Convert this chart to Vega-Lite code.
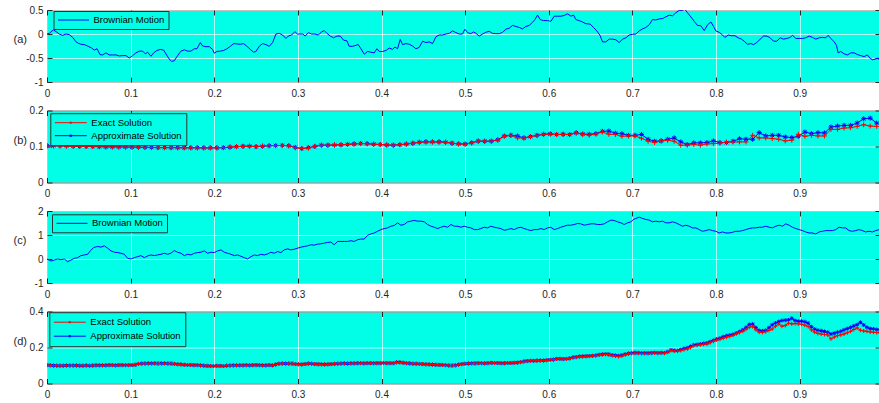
{
"$schema": "https://vega.github.io/schema/vega-lite/v6.json",
"padding": {"left": 12, "top": 4, "right": 0, "bottom": 0},
"background": "white",
"bounds": "flush",
"spacing": 28.5,
"config": {
  "font": "Liberation Sans",
  "view": {"fill": "#00ffe6", "stroke": "#333333", "strokeWidth": 1},
  "axis": {"labelFont": "Liberation Sans", "labelFontSize": 10, "labelColor": "#262626", "tickColor": "#262626", "tickSize": -5, "tickWidth": 1, "domain": false, "grid": true, "gridColor": "#ffffff", "gridOpacity": 0.7, "gridWidth": 1, "labelFlush": false, "titleFont": "Liberation Sans", "titleFontSize": 11, "titleFontWeight": "normal", "titleColor": "#262626"},
  "axisX": {"labelPadding": 11},
  "axisY": {"labelPadding": 9, "titleAngle": 0, "titleAlign": "left", "titleBaseline": "middle", "titleX": -34, "titleY": 29.5},
  "legend": {"labelFont": "Liberation Sans", "labelFontSize": 9.5, "labelColor": "#000000", "fillColor": "#00ffe6", "strokeColor": "#333333", "strokeWidth": 1, "padding": 4, "labelOffset": 4, "symbolStrokeWidth": 1, "title": null, "orient": "none"}
},
"resolve": {"scale": {"color": "independent", "x": "independent", "y": "independent"}, "legend": {"color": "independent"}},
"datasets": {
"a": [{"x":0,"y":0},{"x":0.0028,"y":0.014},{"x":0.0076,"y":0.086},{"x":0.0108,"y":0.05},{"x":0.0147,"y":0},{"x":0.0187,"y":-0.029},{"x":0.0227,"y":0},{"x":0.0267,"y":-0.014},{"x":0.0307,"y":-0.071},{"x":0.0347,"y":-0.164},{"x":0.0375,"y":-0.193},{"x":0.0406,"y":-0.214},{"x":0.0446,"y":-0.221},{"x":0.0494,"y":-0.257},{"x":0.0534,"y":-0.293},{"x":0.0566,"y":-0.336},{"x":0.0598,"y":-0.307},{"x":0.0634,"y":-0.429},{"x":0.0665,"y":-0.436},{"x":0.0705,"y":-0.393},{"x":0.0745,"y":-0.436},{"x":0.0785,"y":-0.436},{"x":0.0825,"y":-0.436},{"x":0.0865,"y":-0.457},{"x":0.0905,"y":-0.45},{"x":0.0944,"y":-0.45},{"x":0.0984,"y":-0.5},{"x":0.1024,"y":-0.45},{"x":0.1064,"y":-0.393},{"x":0.1104,"y":-0.357},{"x":0.1144,"y":-0.357},{"x":0.1176,"y":-0.414},{"x":0.1203,"y":-0.379},{"x":0.1243,"y":-0.464},{"x":0.1275,"y":-0.393},{"x":0.1315,"y":-0.343},{"x":0.1355,"y":-0.321},{"x":0.1395,"y":-0.336},{"x":0.1435,"y":-0.45},{"x":0.1462,"y":-0.521},{"x":0.149,"y":-0.571},{"x":0.1522,"y":-0.557},{"x":0.1562,"y":-0.45},{"x":0.1602,"y":-0.357},{"x":0.1642,"y":-0.329},{"x":0.1682,"y":-0.357},{"x":0.1721,"y":-0.357},{"x":0.1761,"y":-0.307},{"x":0.1793,"y":-0.307},{"x":0.1833,"y":-0.179},{"x":0.1861,"y":-0.25},{"x":0.1901,"y":-0.264},{"x":0.1941,"y":-0.264},{"x":0.198,"y":-0.321},{"x":0.2,"y":-0.4},{"x":0.2032,"y":-0.364},{"x":0.2072,"y":-0.357},{"x":0.2112,"y":-0.343},{"x":0.2152,"y":-0.307},{"x":0.2192,"y":-0.257},{"x":0.2232,"y":-0.2},{"x":0.2271,"y":-0.207},{"x":0.2311,"y":-0.214},{"x":0.2351,"y":-0.2},{"x":0.2391,"y":-0.257},{"x":0.2431,"y":-0.321},{"x":0.2471,"y":-0.379},{"x":0.2499,"y":-0.364},{"x":0.2538,"y":-0.257},{"x":0.2578,"y":-0.2},{"x":0.2618,"y":-0.221},{"x":0.2658,"y":-0.257},{"x":0.2698,"y":-0.179},{"x":0.2738,"y":0},{"x":0.2777,"y":0.014},{"x":0.2817,"y":-0.021},{"x":0.2857,"y":-0.093},{"x":0.2885,"y":-0.043},{"x":0.2925,"y":-0.021},{"x":0.2965,"y":0.05},{"x":0.2997,"y":-0.007},{"x":0.3017,"y":0},{"x":0.3057,"y":0},{"x":0.3088,"y":-0.043},{"x":0.3124,"y":0.029},{"x":0.3164,"y":0},{"x":0.3204,"y":0},{"x":0.3244,"y":-0.021},{"x":0.3284,"y":0.043},{"x":0.3315,"y":0.071},{"x":0.3347,"y":0.014},{"x":0.3387,"y":-0.043},{"x":0.3427,"y":-0.079},{"x":0.3467,"y":-0.043},{"x":0.3507,"y":-0.043},{"x":0.3547,"y":-0.129},{"x":0.3587,"y":-0.143},{"x":0.3614,"y":-0.257},{"x":0.3654,"y":-0.257},{"x":0.3694,"y":-0.236},{"x":0.3722,"y":-0.221},{"x":0.3754,"y":-0.307},{"x":0.3794,"y":-0.421},{"x":0.3834,"y":-0.364},{"x":0.3873,"y":-0.379},{"x":0.3913,"y":-0.393},{"x":0.3945,"y":-0.307},{"x":0.3973,"y":-0.364},{"x":0.4013,"y":-0.364},{"x":0.4053,"y":-0.343},{"x":0.4093,"y":-0.293},{"x":0.4133,"y":-0.321},{"x":0.416,"y":-0.271},{"x":0.4192,"y":-0.307},{"x":0.4224,"y":-0.114},{"x":0.4252,"y":-0.221},{"x":0.4292,"y":-0.2},{"x":0.4332,"y":-0.214},{"x":0.4371,"y":-0.25},{"x":0.4411,"y":-0.307},{"x":0.4451,"y":-0.279},{"x":0.4491,"y":-0.15},{"x":0.4531,"y":-0.179},{"x":0.4571,"y":-0.164},{"x":0.4611,"y":-0.2},{"x":0.4651,"y":-0.057},{"x":0.469,"y":-0.021},{"x":0.473,"y":-0.021},{"x":0.477,"y":0},{"x":0.481,"y":0.014},{"x":0.485,"y":0.064},{"x":0.489,"y":0.029},{"x":0.4929,"y":0},{"x":0.4969,"y":0},{"x":0.4997,"y":0.1},{"x":0.5029,"y":0.029},{"x":0.5069,"y":0.007},{"x":0.5101,"y":0.043},{"x":0.5129,"y":0.014},{"x":0.5169,"y":-0.043},{"x":0.5208,"y":0},{"x":0.5248,"y":0.036},{"x":0.5288,"y":0.057},{"x":0.5328,"y":0.014},{"x":0.5368,"y":0.007},{"x":0.5408,"y":0.007},{"x":0.5448,"y":0.036},{"x":0.5487,"y":0.1},{"x":0.5527,"y":0.121},{"x":0.5567,"y":0.179},{"x":0.5607,"y":0.157},{"x":0.5647,"y":0.136},{"x":0.5687,"y":0.107},{"x":0.5727,"y":0.157},{"x":0.5766,"y":0.179},{"x":0.5806,"y":0.243},{"x":0.5834,"y":0.3},{"x":0.5866,"y":0.393},{"x":0.5898,"y":0.3},{"x":0.5938,"y":0.279},{"x":0.5986,"y":0.279},{"x":0.6026,"y":0.264},{"x":0.6065,"y":0.371},{"x":0.6105,"y":0.371},{"x":0.6145,"y":0.371},{"x":0.6185,"y":0.386},{"x":0.6225,"y":0.421},{"x":0.6265,"y":0.371},{"x":0.6297,"y":0.393},{"x":0.6324,"y":0.3},{"x":0.6364,"y":0.279},{"x":0.6404,"y":0.25},{"x":0.6444,"y":0.214},{"x":0.6495,"y":0.207},{"x":0.6535,"y":0.136},{"x":0.6575,"y":0.064},{"x":0.6615,"y":-0.036},{"x":0.6643,"y":-0.164},{"x":0.6683,"y":-0.164},{"x":0.6723,"y":-0.107},{"x":0.6763,"y":-0.107},{"x":0.6803,"y":-0.121},{"x":0.6843,"y":-0.179},{"x":0.6882,"y":-0.107},{"x":0.6922,"y":-0.079},{"x":0.6962,"y":-0.021},{"x":0.7002,"y":-0.007},{"x":0.7042,"y":0},{"x":0.7082,"y":0.064},{"x":0.7121,"y":0.107},{"x":0.7161,"y":0.136},{"x":0.7201,"y":0.193},{"x":0.7241,"y":0.3},{"x":0.7281,"y":0.293},{"x":0.7321,"y":0.314},{"x":0.7361,"y":0.321},{"x":0.74,"y":0.357},{"x":0.744,"y":0.393},{"x":0.748,"y":0.379},{"x":0.752,"y":0.443},{"x":0.756,"y":0.493},{"x":0.76,"y":0.493},{"x":0.7628,"y":0.514},{"x":0.7659,"y":0.443},{"x":0.7699,"y":0.357},{"x":0.7739,"y":0.264},{"x":0.7779,"y":0.179},{"x":0.7819,"y":0.171},{"x":0.7859,"y":0.071},{"x":0.7899,"y":0.193},{"x":0.7939,"y":0.25},{"x":0.7971,"y":0.157},{"x":0.7998,"y":0.064},{"x":0.8038,"y":0.036},{"x":0.8078,"y":-0.021},{"x":0.8106,"y":-0.071},{"x":0.8146,"y":-0.021},{"x":0.8186,"y":-0.036},{"x":0.8226,"y":-0.036},{"x":0.8265,"y":-0.079},{"x":0.8305,"y":-0.107},{"x":0.8337,"y":-0.15},{"x":0.8377,"y":-0.214},{"x":0.8417,"y":-0.2},{"x":0.8449,"y":-0.221},{"x":0.8488,"y":-0.179},{"x":0.8528,"y":-0.107},{"x":0.8568,"y":-0.043},{"x":0.8608,"y":-0.043},{"x":0.8648,"y":-0.079},{"x":0.8688,"y":-0.15},{"x":0.8728,"y":-0.15},{"x":0.8767,"y":-0.079},{"x":0.8807,"y":-0.107},{"x":0.8847,"y":-0.093},{"x":0.8887,"y":-0.071},{"x":0.8915,"y":-0.029},{"x":0.8955,"y":-0.093},{"x":0.8994,"y":-0.093},{"x":0.9034,"y":-0.093},{"x":0.9074,"y":-0.079},{"x":0.9114,"y":-0.043},{"x":0.9154,"y":-0.071},{"x":0.9194,"y":-0.107},{"x":0.9233,"y":-0.079},{"x":0.9273,"y":-0.071},{"x":0.9313,"y":-0.079},{"x":0.9341,"y":-0.029},{"x":0.9373,"y":-0.093},{"x":0.9413,"y":-0.164},{"x":0.9441,"y":-0.236},{"x":0.946,"y":-0.393},{"x":0.9492,"y":-0.364},{"x":0.9532,"y":-0.414},{"x":0.9572,"y":-0.436},{"x":0.9612,"y":-0.393},{"x":0.9652,"y":-0.393},{"x":0.9692,"y":-0.429},{"x":0.9731,"y":-0.45},{"x":0.9771,"y":-0.471},{"x":0.9811,"y":-0.436},{"x":0.9843,"y":-0.507},{"x":0.9871,"y":-0.536},{"x":0.9911,"y":-0.521},{"x":0.9939,"y":-0.5},{"x":0.9959,"y":-0.557}],
"b": [{"x":0,"e":0.102,"a":0.102},{"x":0.0078,"e":0.102,"a":0.102},{"x":0.0156,"e":0.1015,"a":0.102},{"x":0.0234,"e":0.101,"a":0.1015},{"x":0.0313,"e":0.1005,"a":0.101},{"x":0.0391,"e":0.1,"a":0.1005},{"x":0.0469,"e":0.1,"a":0.1},{"x":0.0547,"e":0.0995,"a":0.1},{"x":0.0625,"e":0.0995,"a":0.0995},{"x":0.0703,"e":0.099,"a":0.099},{"x":0.0781,"e":0.099,"a":0.099},{"x":0.0859,"e":0.0985,"a":0.099},{"x":0.0938,"e":0.0985,"a":0.0985},{"x":0.1016,"e":0.098,"a":0.0985},{"x":0.1094,"e":0.098,"a":0.098},{"x":0.1172,"e":0.0975,"a":0.098},{"x":0.125,"e":0.097,"a":0.0975},{"x":0.1328,"e":0.097,"a":0.097},{"x":0.1406,"e":0.0968,"a":0.097},{"x":0.1484,"e":0.0968,"a":0.0968},{"x":0.1563,"e":0.0965,"a":0.0968},{"x":0.1641,"e":0.0965,"a":0.0965},{"x":0.1719,"e":0.0965,"a":0.0965},{"x":0.1797,"e":0.0963,"a":0.0965},{"x":0.1875,"e":0.0963,"a":0.0963},{"x":0.1953,"e":0.0963,"a":0.0963},{"x":0.2031,"e":0.0965,"a":0.0963},{"x":0.2109,"e":0.097,"a":0.0968},{"x":0.2188,"e":0.0985,"a":0.098},{"x":0.2266,"e":0.0995,"a":0.0995},{"x":0.2344,"e":0.1005,"a":0.1005},{"x":0.2422,"e":0.1005,"a":0.101},{"x":0.25,"e":0.1,"a":0.0995},{"x":0.2578,"e":0.1015,"a":0.1005},{"x":0.2656,"e":0.1025,"a":0.102},{"x":0.2734,"e":0.1025,"a":0.1025},{"x":0.2813,"e":0.1025,"a":0.103},{"x":0.2891,"e":0.102,"a":0.102},{"x":0.2969,"e":0.0965,"a":0.0975},{"x":0.3047,"e":0.0945,"a":0.0945},{"x":0.3125,"e":0.0955,"a":0.097},{"x":0.3203,"e":0.101,"a":0.1},{"x":0.3281,"e":0.1035,"a":0.1036},{"x":0.3359,"e":0.1036,"a":0.1036},{"x":0.3438,"e":0.1045,"a":0.104},{"x":0.3516,"e":0.105,"a":0.1045},{"x":0.3594,"e":0.1055,"a":0.106},{"x":0.3672,"e":0.107,"a":0.107},{"x":0.375,"e":0.108,"a":0.1085},{"x":0.3828,"e":0.1075,"a":0.108},{"x":0.3906,"e":0.1064,"a":0.1064},{"x":0.3984,"e":0.1055,"a":0.1055},{"x":0.4063,"e":0.1045,"a":0.104},{"x":0.4141,"e":0.1036,"a":0.1036},{"x":0.4219,"e":0.105,"a":0.105},{"x":0.4297,"e":0.107,"a":0.1068},{"x":0.4375,"e":0.109,"a":0.109},{"x":0.4453,"e":0.1115,"a":0.112},{"x":0.4531,"e":0.1128,"a":0.113},{"x":0.4609,"e":0.1128,"a":0.1128},{"x":0.4688,"e":0.1125,"a":0.113},{"x":0.4766,"e":0.112,"a":0.112},{"x":0.4844,"e":0.109,"a":0.109},{"x":0.4922,"e":0.107,"a":0.1073},{"x":0.5,"e":0.1064,"a":0.1068},{"x":0.5078,"e":0.11,"a":0.1105},{"x":0.5156,"e":0.1146,"a":0.115},{"x":0.5234,"e":0.1146,"a":0.1146},{"x":0.5313,"e":0.1146,"a":0.115},{"x":0.5391,"e":0.118,"a":0.1185},{"x":0.5469,"e":0.1285,"a":0.129},{"x":0.5547,"e":0.131,"a":0.1311},{"x":0.5625,"e":0.1238,"a":0.1293},{"x":0.5703,"e":0.1238,"a":0.1238},{"x":0.5781,"e":0.127,"a":0.1275},{"x":0.5859,"e":0.1305,"a":0.131},{"x":0.5938,"e":0.1335,"a":0.134},{"x":0.6016,"e":0.1345,"a":0.135},{"x":0.6094,"e":0.133,"a":0.1335},{"x":0.6172,"e":0.1335,"a":0.134},{"x":0.625,"e":0.133,"a":0.1335},{"x":0.6328,"e":0.1375,"a":0.138},{"x":0.6406,"e":0.134,"a":0.1345},{"x":0.6484,"e":0.1315,"a":0.1339},{"x":0.6563,"e":0.1345,"a":0.1357},{"x":0.6641,"e":0.1403,"a":0.142},{"x":0.6719,"e":0.134,"a":0.143},{"x":0.6797,"e":0.1335,"a":0.137},{"x":0.6875,"e":0.1284,"a":0.1357},{"x":0.6953,"e":0.1293,"a":0.131},{"x":0.7031,"e":0.1293,"a":0.131},{"x":0.7109,"e":0.123,"a":0.1335},{"x":0.7188,"e":0.1146,"a":0.12},{"x":0.7266,"e":0.111,"a":0.1146},{"x":0.7344,"e":0.1155,"a":0.1155},{"x":0.7422,"e":0.1174,"a":0.12},{"x":0.75,"e":0.1146,"a":0.1238},{"x":0.7578,"e":0.1036,"a":0.1128},{"x":0.7656,"e":0.1036,"a":0.1055},{"x":0.7734,"e":0.1055,"a":0.11},{"x":0.7813,"e":0.1036,"a":0.11},{"x":0.7891,"e":0.1073,"a":0.111},{"x":0.7969,"e":0.108,"a":0.1155},{"x":0.8047,"e":0.109,"a":0.111},{"x":0.8125,"e":0.1125,"a":0.111},{"x":0.8203,"e":0.1128,"a":0.1146},{"x":0.8281,"e":0.1128,"a":0.1215},{"x":0.8359,"e":0.1128,"a":0.1201},{"x":0.8438,"e":0.1311,"a":0.1201},{"x":0.8516,"e":0.1238,"a":0.1385},{"x":0.8594,"e":0.1238,"a":0.1293},{"x":0.8672,"e":0.122,"a":0.1311},{"x":0.875,"e":0.1201,"a":0.1311},{"x":0.8828,"e":0.1155,"a":0.1265},{"x":0.8906,"e":0.1174,"a":0.1247},{"x":0.8984,"e":0.1339,"a":0.1284},{"x":0.9063,"e":0.1284,"a":0.1403},{"x":0.9141,"e":0.1311,"a":0.1357},{"x":0.9219,"e":0.1293,"a":0.1385},{"x":0.9297,"e":0.1293,"a":0.1376},{"x":0.9375,"e":0.1476,"a":0.1541},{"x":0.9453,"e":0.1476,"a":0.1569},{"x":0.9531,"e":0.1513,"a":0.1587},{"x":0.9609,"e":0.1522,"a":0.1587},{"x":0.9688,"e":0.1559,"a":0.1651},{"x":0.9766,"e":0.1605,"a":0.177},{"x":0.9844,"e":0.1568,"a":0.1788},{"x":0.9922,"e":0.1559,"a":0.1651}],
"c": [{"x":0,"y":0},{"x":0.0048,"y":-0.085},{"x":0.0088,"y":-0.042},{"x":0.0128,"y":0},{"x":0.0167,"y":-0.028},{"x":0.0207,"y":0},{"x":0.0247,"y":-0.113},{"x":0.0287,"y":-0.042},{"x":0.0327,"y":0.028},{"x":0.0367,"y":0.056},{"x":0.0406,"y":0.141},{"x":0.0446,"y":0.169},{"x":0.0486,"y":0.197},{"x":0.0518,"y":0.338},{"x":0.0558,"y":0.479},{"x":0.0606,"y":0.521},{"x":0.0646,"y":0.493},{"x":0.0685,"y":0.549},{"x":0.0725,"y":0.451},{"x":0.0765,"y":0.338},{"x":0.0805,"y":0.282},{"x":0.0845,"y":0.268},{"x":0.0885,"y":0.239},{"x":0.0924,"y":0.197},{"x":0.0964,"y":0.028},{"x":0.1004,"y":0},{"x":0.1044,"y":0.056},{"x":0.1084,"y":0.099},{"x":0.1124,"y":0.141},{"x":0.1164,"y":0.056},{"x":0.1203,"y":0.127},{"x":0.1243,"y":0.169},{"x":0.1283,"y":0.141},{"x":0.1323,"y":0.169},{"x":0.1363,"y":0.197},{"x":0.1403,"y":0.239},{"x":0.1443,"y":0.197},{"x":0.1482,"y":0.239},{"x":0.1522,"y":0.352},{"x":0.1562,"y":0.282},{"x":0.1602,"y":0.239},{"x":0.1642,"y":0.141},{"x":0.1682,"y":0.197},{"x":0.1721,"y":0.169},{"x":0.1761,"y":0.239},{"x":0.1801,"y":0.268},{"x":0.1841,"y":0.282},{"x":0.1881,"y":0.338},{"x":0.1921,"y":0.239},{"x":0.1961,"y":0.282},{"x":0.2,"y":0.268},{"x":0.204,"y":0.338},{"x":0.208,"y":0.38},{"x":0.212,"y":0.282},{"x":0.216,"y":0.239},{"x":0.22,"y":0.197},{"x":0.224,"y":0.141},{"x":0.2279,"y":0.169},{"x":0.2319,"y":0.113},{"x":0.2359,"y":0.056},{"x":0.2399,"y":0},{"x":0.2439,"y":0.099},{"x":0.2479,"y":0.169},{"x":0.2518,"y":0.141},{"x":0.2558,"y":0.197},{"x":0.2598,"y":0.169},{"x":0.2638,"y":0.211},{"x":0.2678,"y":0.282},{"x":0.2718,"y":0.239},{"x":0.2757,"y":0.31},{"x":0.2797,"y":0.268},{"x":0.2837,"y":0.38},{"x":0.2877,"y":0.423},{"x":0.2917,"y":0.38},{"x":0.2957,"y":0.408},{"x":0.2997,"y":0.451},{"x":0.3037,"y":0.493},{"x":0.3077,"y":0.521},{"x":0.3116,"y":0.549},{"x":0.3156,"y":0.592},{"x":0.3196,"y":0.577},{"x":0.3236,"y":0.62},{"x":0.3276,"y":0.634},{"x":0.3315,"y":0.662},{"x":0.3355,"y":0.69},{"x":0.3395,"y":0.704},{"x":0.3435,"y":0.592},{"x":0.3475,"y":0.732},{"x":0.3515,"y":0.732},{"x":0.3554,"y":0.732},{"x":0.3594,"y":0.732},{"x":0.3634,"y":0.761},{"x":0.3674,"y":0.732},{"x":0.3714,"y":0.803},{"x":0.3754,"y":0.831},{"x":0.3793,"y":0.831},{"x":0.3833,"y":0.986},{"x":0.3873,"y":1.042},{"x":0.3913,"y":1.085},{"x":0.3953,"y":1.155},{"x":0.3993,"y":1.225},{"x":0.4033,"y":1.268},{"x":0.4072,"y":1.296},{"x":0.4112,"y":1.366},{"x":0.4152,"y":1.394},{"x":0.4192,"y":1.507},{"x":0.4232,"y":1.408},{"x":0.4272,"y":1.437},{"x":0.4312,"y":1.549},{"x":0.4351,"y":1.577},{"x":0.4391,"y":1.606},{"x":0.4431,"y":1.577},{"x":0.4471,"y":1.577},{"x":0.4511,"y":1.549},{"x":0.4551,"y":1.437},{"x":0.4591,"y":1.366},{"x":0.463,"y":1.324},{"x":0.467,"y":1.268},{"x":0.471,"y":1.324},{"x":0.475,"y":1.366},{"x":0.479,"y":1.324},{"x":0.483,"y":1.437},{"x":0.4869,"y":1.366},{"x":0.4909,"y":1.366},{"x":0.4949,"y":1.324},{"x":0.4989,"y":1.366},{"x":0.5029,"y":1.324},{"x":0.5069,"y":1.296},{"x":0.5109,"y":1.225},{"x":0.5148,"y":1.225},{"x":0.5188,"y":1.268},{"x":0.5228,"y":1.324},{"x":0.5268,"y":1.296},{"x":0.5308,"y":1.366},{"x":0.5348,"y":1.324},{"x":0.5388,"y":1.296},{"x":0.5427,"y":1.268},{"x":0.5467,"y":1.197},{"x":0.5507,"y":1.225},{"x":0.5547,"y":1.268},{"x":0.5587,"y":1.225},{"x":0.5627,"y":1.296},{"x":0.5667,"y":1.324},{"x":0.5706,"y":1.268},{"x":0.5746,"y":1.225},{"x":0.5786,"y":1.183},{"x":0.5826,"y":1.225},{"x":0.5866,"y":1.225},{"x":0.5906,"y":1.268},{"x":0.5945,"y":1.225},{"x":0.5985,"y":1.296},{"x":0.6025,"y":1.324},{"x":0.6065,"y":1.225},{"x":0.6105,"y":1.268},{"x":0.6145,"y":1.324},{"x":0.6184,"y":1.366},{"x":0.6224,"y":1.408},{"x":0.6264,"y":1.408},{"x":0.6304,"y":1.437},{"x":0.6344,"y":1.479},{"x":0.6384,"y":1.465},{"x":0.6424,"y":1.408},{"x":0.6464,"y":1.437},{"x":0.6504,"y":1.465},{"x":0.6544,"y":1.465},{"x":0.6584,"y":1.437},{"x":0.6623,"y":1.437},{"x":0.6663,"y":1.465},{"x":0.6703,"y":1.549},{"x":0.6743,"y":1.62},{"x":0.6782,"y":1.606},{"x":0.6822,"y":1.549},{"x":0.6862,"y":1.507},{"x":0.6902,"y":1.437},{"x":0.6942,"y":1.507},{"x":0.6982,"y":1.549},{"x":0.7014,"y":1.648},{"x":0.7042,"y":1.69},{"x":0.7081,"y":1.746},{"x":0.7121,"y":1.69},{"x":0.7161,"y":1.648},{"x":0.7201,"y":1.62},{"x":0.7241,"y":1.549},{"x":0.7281,"y":1.577},{"x":0.7321,"y":1.549},{"x":0.736,"y":1.577},{"x":0.74,"y":1.507},{"x":0.744,"y":1.507},{"x":0.748,"y":1.549},{"x":0.752,"y":1.507},{"x":0.756,"y":1.437},{"x":0.7599,"y":1.366},{"x":0.7639,"y":1.408},{"x":0.7679,"y":1.366},{"x":0.7719,"y":1.296},{"x":0.7759,"y":1.296},{"x":0.7799,"y":1.225},{"x":0.7838,"y":1.155},{"x":0.7878,"y":1.183},{"x":0.7918,"y":1.225},{"x":0.7958,"y":1.183},{"x":0.7998,"y":1.155},{"x":0.8038,"y":1.085},{"x":0.8078,"y":1.127},{"x":0.8117,"y":1.085},{"x":0.8157,"y":1.085},{"x":0.8197,"y":1.113},{"x":0.8237,"y":1.155},{"x":0.8277,"y":1.155},{"x":0.8317,"y":1.183},{"x":0.8356,"y":1.225},{"x":0.8396,"y":1.268},{"x":0.8436,"y":1.296},{"x":0.8476,"y":1.296},{"x":0.8516,"y":1.324},{"x":0.8556,"y":1.324},{"x":0.8595,"y":1.366},{"x":0.8635,"y":1.324},{"x":0.8675,"y":1.296},{"x":0.8715,"y":1.366},{"x":0.8755,"y":1.408},{"x":0.8795,"y":1.366},{"x":0.8834,"y":1.465},{"x":0.8874,"y":1.408},{"x":0.8914,"y":1.324},{"x":0.8954,"y":1.268},{"x":0.8994,"y":1.225},{"x":0.9034,"y":1.183},{"x":0.9073,"y":1.127},{"x":0.9113,"y":1.085},{"x":0.9153,"y":1.085},{"x":0.9193,"y":1.042},{"x":0.9233,"y":1.127},{"x":0.9273,"y":1.155},{"x":0.9312,"y":1.183},{"x":0.9352,"y":1.183},{"x":0.9392,"y":1.183},{"x":0.9432,"y":1.225},{"x":0.9472,"y":1.324},{"x":0.9512,"y":1.296},{"x":0.9551,"y":1.296},{"x":0.9591,"y":1.183},{"x":0.9631,"y":1.155},{"x":0.9671,"y":1.183},{"x":0.9711,"y":1.225},{"x":0.9751,"y":1.183},{"x":0.979,"y":1.127},{"x":0.983,"y":1.155},{"x":0.987,"y":1.127},{"x":0.991,"y":1.183},{"x":0.995,"y":1.225}],
"d": [{"x":0,"a":0.102,"e":0.102},{"x":0.0039,"a":0.101,"e":0.101},{"x":0.0078,"a":0.1,"e":0.1},{"x":0.0117,"a":0.099,"e":0.099},{"x":0.0156,"a":0.099,"e":0.099},{"x":0.0195,"a":0.099,"e":0.099},{"x":0.0234,"a":0.1,"e":0.1},{"x":0.0273,"a":0.1,"e":0.1},{"x":0.0313,"a":0.1,"e":0.1},{"x":0.0352,"a":0.1,"e":0.1},{"x":0.0391,"a":0.099,"e":0.099},{"x":0.043,"a":0.099,"e":0.099},{"x":0.0469,"a":0.1,"e":0.1},{"x":0.0508,"a":0.099,"e":0.099},{"x":0.0547,"a":0.1,"e":0.1},{"x":0.0586,"a":0.101,"e":0.101},{"x":0.0625,"a":0.101,"e":0.101},{"x":0.0664,"a":0.101,"e":0.101},{"x":0.0703,"a":0.101,"e":0.101},{"x":0.0742,"a":0.102,"e":0.102},{"x":0.0781,"a":0.102,"e":0.102},{"x":0.082,"a":0.101,"e":0.101},{"x":0.0859,"a":0.102,"e":0.102},{"x":0.0898,"a":0.102,"e":0.102},{"x":0.0938,"a":0.102,"e":0.102},{"x":0.0977,"a":0.102,"e":0.102},{"x":0.1016,"a":0.102,"e":0.102},{"x":0.1055,"a":0.104,"e":0.104},{"x":0.1094,"a":0.109,"e":0.108},{"x":0.1133,"a":0.111,"e":0.11},{"x":0.1172,"a":0.111,"e":0.111},{"x":0.1211,"a":0.112,"e":0.111},{"x":0.125,"a":0.112,"e":0.112},{"x":0.1289,"a":0.112,"e":0.112},{"x":0.1328,"a":0.111,"e":0.111},{"x":0.1367,"a":0.112,"e":0.111},{"x":0.1406,"a":0.112,"e":0.112},{"x":0.1445,"a":0.111,"e":0.111},{"x":0.1484,"a":0.111,"e":0.11},{"x":0.1523,"a":0.109,"e":0.109},{"x":0.1563,"a":0.107,"e":0.107},{"x":0.1602,"a":0.106,"e":0.106},{"x":0.1641,"a":0.104,"e":0.104},{"x":0.168,"a":0.103,"e":0.103},{"x":0.1719,"a":0.103,"e":0.103},{"x":0.1758,"a":0.102,"e":0.102},{"x":0.1797,"a":0.102,"e":0.102},{"x":0.1836,"a":0.101,"e":0.1},{"x":0.1875,"a":0.099,"e":0.099},{"x":0.1914,"a":0.098,"e":0.098},{"x":0.1953,"a":0.097,"e":0.097},{"x":0.1992,"a":0.097,"e":0.097},{"x":0.2031,"a":0.098,"e":0.098},{"x":0.207,"a":0.098,"e":0.097},{"x":0.2109,"a":0.097,"e":0.097},{"x":0.2148,"a":0.099,"e":0.099},{"x":0.2188,"a":0.1,"e":0.1},{"x":0.2227,"a":0.101,"e":0.1},{"x":0.2266,"a":0.101,"e":0.101},{"x":0.2305,"a":0.101,"e":0.101},{"x":0.2344,"a":0.101,"e":0.101},{"x":0.2383,"a":0.102,"e":0.101},{"x":0.2422,"a":0.101,"e":0.101},{"x":0.2461,"a":0.102,"e":0.102},{"x":0.25,"a":0.102,"e":0.102},{"x":0.2539,"a":0.102,"e":0.101},{"x":0.2578,"a":0.101,"e":0.101},{"x":0.2617,"a":0.101,"e":0.101},{"x":0.2656,"a":0.102,"e":0.102},{"x":0.2695,"a":0.101,"e":0.101},{"x":0.2734,"a":0.106,"e":0.105},{"x":0.2773,"a":0.11,"e":0.109},{"x":0.2813,"a":0.111,"e":0.111},{"x":0.2852,"a":0.111,"e":0.111},{"x":0.2891,"a":0.111,"e":0.11},{"x":0.293,"a":0.111,"e":0.11},{"x":0.2969,"a":0.108,"e":0.108},{"x":0.3008,"a":0.107,"e":0.107},{"x":0.3047,"a":0.106,"e":0.106},{"x":0.3086,"a":0.108,"e":0.108},{"x":0.3125,"a":0.111,"e":0.11},{"x":0.3164,"a":0.11,"e":0.11},{"x":0.3203,"a":0.108,"e":0.108},{"x":0.3242,"a":0.107,"e":0.107},{"x":0.3281,"a":0.107,"e":0.106},{"x":0.332,"a":0.106,"e":0.106},{"x":0.3359,"a":0.107,"e":0.107},{"x":0.3398,"a":0.108,"e":0.108},{"x":0.3438,"a":0.109,"e":0.109},{"x":0.3477,"a":0.11,"e":0.11},{"x":0.3516,"a":0.111,"e":0.111},{"x":0.3555,"a":0.112,"e":0.111},{"x":0.3594,"a":0.111,"e":0.111},{"x":0.3633,"a":0.112,"e":0.112},{"x":0.3672,"a":0.112,"e":0.112},{"x":0.3711,"a":0.113,"e":0.112},{"x":0.375,"a":0.113,"e":0.113},{"x":0.3789,"a":0.112,"e":0.112},{"x":0.3828,"a":0.113,"e":0.113},{"x":0.3867,"a":0.113,"e":0.113},{"x":0.3906,"a":0.113,"e":0.112},{"x":0.3945,"a":0.113,"e":0.113},{"x":0.3984,"a":0.113,"e":0.113},{"x":0.4023,"a":0.114,"e":0.113},{"x":0.4063,"a":0.113,"e":0.113},{"x":0.4102,"a":0.113,"e":0.113},{"x":0.4141,"a":0.113,"e":0.113},{"x":0.418,"a":0.118,"e":0.117},{"x":0.4219,"a":0.118,"e":0.117},{"x":0.4258,"a":0.115,"e":0.115},{"x":0.4297,"a":0.113,"e":0.113},{"x":0.4336,"a":0.112,"e":0.112},{"x":0.4375,"a":0.11,"e":0.11},{"x":0.4414,"a":0.11,"e":0.109},{"x":0.4453,"a":0.109,"e":0.109},{"x":0.4492,"a":0.108,"e":0.108},{"x":0.4531,"a":0.107,"e":0.107},{"x":0.457,"a":0.106,"e":0.106},{"x":0.4609,"a":0.105,"e":0.105},{"x":0.4648,"a":0.104,"e":0.104},{"x":0.4688,"a":0.104,"e":0.103},{"x":0.4727,"a":0.103,"e":0.103},{"x":0.4766,"a":0.102,"e":0.102},{"x":0.4805,"a":0.1,"e":0.1},{"x":0.4844,"a":0.1,"e":0.099},{"x":0.4883,"a":0.101,"e":0.101},{"x":0.4922,"a":0.105,"e":0.104},{"x":0.4961,"a":0.108,"e":0.108},{"x":0.5,"a":0.11,"e":0.11},{"x":0.5039,"a":0.111,"e":0.111},{"x":0.5078,"a":0.112,"e":0.112},{"x":0.5117,"a":0.112,"e":0.111},{"x":0.5156,"a":0.113,"e":0.113},{"x":0.5195,"a":0.113,"e":0.113},{"x":0.5234,"a":0.112,"e":0.112},{"x":0.5273,"a":0.113,"e":0.113},{"x":0.5313,"a":0.115,"e":0.114},{"x":0.5352,"a":0.114,"e":0.114},{"x":0.5391,"a":0.114,"e":0.113},{"x":0.543,"a":0.113,"e":0.113},{"x":0.5469,"a":0.113,"e":0.112},{"x":0.5508,"a":0.114,"e":0.114},{"x":0.5547,"a":0.114,"e":0.114},{"x":0.5586,"a":0.115,"e":0.115},{"x":0.5625,"a":0.116,"e":0.115},{"x":0.5664,"a":0.119,"e":0.118},{"x":0.5703,"a":0.123,"e":0.122},{"x":0.5742,"a":0.125,"e":0.124},{"x":0.5781,"a":0.126,"e":0.126},{"x":0.582,"a":0.126,"e":0.125},{"x":0.5859,"a":0.127,"e":0.127},{"x":0.5898,"a":0.128,"e":0.127},{"x":0.5938,"a":0.128,"e":0.128},{"x":0.5977,"a":0.13,"e":0.129},{"x":0.6016,"a":0.132,"e":0.131},{"x":0.6055,"a":0.133,"e":0.132},{"x":0.6094,"a":0.137,"e":0.136},{"x":0.6133,"a":0.137,"e":0.137},{"x":0.6172,"a":0.136,"e":0.135},{"x":0.6211,"a":0.137,"e":0.136},{"x":0.625,"a":0.14,"e":0.139},{"x":0.6289,"a":0.145,"e":0.144},{"x":0.6328,"a":0.147,"e":0.146},{"x":0.6367,"a":0.151,"e":0.149},{"x":0.6406,"a":0.151,"e":0.15},{"x":0.6445,"a":0.152,"e":0.151},{"x":0.6484,"a":0.153,"e":0.152},{"x":0.6523,"a":0.154,"e":0.153},{"x":0.6563,"a":0.156,"e":0.155},{"x":0.6602,"a":0.16,"e":0.158},{"x":0.6641,"a":0.162,"e":0.16},{"x":0.668,"a":0.164,"e":0.162},{"x":0.6719,"a":0.162,"e":0.16},{"x":0.6758,"a":0.158,"e":0.155},{"x":0.6797,"a":0.156,"e":0.152},{"x":0.6836,"a":0.154,"e":0.149},{"x":0.6875,"a":0.158,"e":0.153},{"x":0.6914,"a":0.163,"e":0.16},{"x":0.6953,"a":0.167,"e":0.165},{"x":0.6992,"a":0.169,"e":0.167},{"x":0.7031,"a":0.171,"e":0.168},{"x":0.707,"a":0.17,"e":0.168},{"x":0.7109,"a":0.169,"e":0.167},{"x":0.7148,"a":0.169,"e":0.167},{"x":0.7188,"a":0.169,"e":0.167},{"x":0.7227,"a":0.17,"e":0.168},{"x":0.7266,"a":0.171,"e":0.169},{"x":0.7305,"a":0.17,"e":0.168},{"x":0.7344,"a":0.171,"e":0.169},{"x":0.7383,"a":0.17,"e":0.168},{"x":0.7422,"a":0.176,"e":0.174},{"x":0.7461,"a":0.186,"e":0.183},{"x":0.75,"a":0.184,"e":0.18},{"x":0.7539,"a":0.182,"e":0.179},{"x":0.7578,"a":0.188,"e":0.183},{"x":0.7617,"a":0.195,"e":0.188},{"x":0.7656,"a":0.198,"e":0.192},{"x":0.7695,"a":0.206,"e":0.2},{"x":0.7734,"a":0.214,"e":0.21},{"x":0.7773,"a":0.216,"e":0.212},{"x":0.7813,"a":0.219,"e":0.215},{"x":0.7852,"a":0.222,"e":0.218},{"x":0.7891,"a":0.225,"e":0.22},{"x":0.793,"a":0.232,"e":0.227},{"x":0.7969,"a":0.24,"e":0.235},{"x":0.8008,"a":0.247,"e":0.241},{"x":0.8047,"a":0.252,"e":0.246},{"x":0.8086,"a":0.26,"e":0.252},{"x":0.8125,"a":0.265,"e":0.257},{"x":0.8164,"a":0.269,"e":0.262},{"x":0.8203,"a":0.273,"e":0.268},{"x":0.8242,"a":0.28,"e":0.276},{"x":0.8281,"a":0.288,"e":0.283},{"x":0.832,"a":0.298,"e":0.29},{"x":0.8359,"a":0.312,"e":0.301},{"x":0.8398,"a":0.328,"e":0.313},{"x":0.8438,"a":0.33,"e":0.316},{"x":0.8477,"a":0.31,"e":0.298},{"x":0.8516,"a":0.295,"e":0.285},{"x":0.8555,"a":0.292,"e":0.283},{"x":0.8594,"a":0.296,"e":0.288},{"x":0.8633,"a":0.31,"e":0.295},{"x":0.8672,"a":0.326,"e":0.303},{"x":0.8711,"a":0.336,"e":0.318},{"x":0.875,"a":0.344,"e":0.331},{"x":0.8789,"a":0.35,"e":0.318},{"x":0.8828,"a":0.352,"e":0.322},{"x":0.8867,"a":0.353,"e":0.335},{"x":0.8906,"a":0.362,"e":0.331},{"x":0.8945,"a":0.35,"e":0.333},{"x":0.8984,"a":0.346,"e":0.331},{"x":0.9023,"a":0.346,"e":0.329},{"x":0.9063,"a":0.343,"e":0.324},{"x":0.9102,"a":0.335,"e":0.316},{"x":0.9141,"a":0.315,"e":0.298},{"x":0.918,"a":0.302,"e":0.285},{"x":0.9219,"a":0.296,"e":0.278},{"x":0.9258,"a":0.293,"e":0.275},{"x":0.9297,"a":0.289,"e":0.272},{"x":0.9336,"a":0.285,"e":0.27},{"x":0.9375,"a":0.275,"e":0.248},{"x":0.9414,"a":0.279,"e":0.258},{"x":0.9453,"a":0.285,"e":0.266},{"x":0.9492,"a":0.29,"e":0.27},{"x":0.9531,"a":0.298,"e":0.275},{"x":0.957,"a":0.305,"e":0.282},{"x":0.9609,"a":0.312,"e":0.29},{"x":0.9648,"a":0.32,"e":0.3},{"x":0.9688,"a":0.327,"e":0.309},{"x":0.9727,"a":0.34,"e":0.296},{"x":0.9766,"a":0.325,"e":0.292},{"x":0.9805,"a":0.312,"e":0.29},{"x":0.9844,"a":0.305,"e":0.286},{"x":0.9883,"a":0.303,"e":0.285},{"x":0.9922,"a":0.3,"e":0.283},{"x":0.9961,"a":0.298,"e":0.281}]
},
"vconcat": [
{
  "width": 833, "height": 72,
  "data": {"name": "a"},
  "layer": [
    {"mark": {"type": "line", "strokeWidth": 1, "clip": true},
     "encoding": {
       "x": {"field": "x", "type": "quantitative", "scale": {"domain": [0, 0.9961], "nice": false, "zero": false}, "axis": {"values": [0,0.1,0.2,0.3,0.4,0.5,0.6,0.7,0.8,0.9], "labelExpr": "'' + datum.value", "title": null}},
       "y": {"field": "y", "type": "quantitative", "scale": {"domain": [-1, 0.5], "nice": false, "zero": false}, "axis": {"values": [-1,-0.5,0,0.5], "labelExpr": "'' + datum.value", "title": "(a)"}},
       "color": {"datum": "Brownian Motion", "scale": {"range": ["#0000ff"]}, "legend": {"legendX": 6.5, "legendY": 1, "symbolType": "stroke", "symbolSize": 961, "clipHeight": 10}}
     }},
    {"mark": {"type": "line", "opacity": 0},
     "encoding": {
       "x": {"field": "x", "type": "quantitative", "axis": {"orient": "top", "values": [0,0.1,0.2,0.3,0.4,0.5,0.6,0.7,0.8,0.9], "labels": false, "grid": false, "title": null}},
       "y": {"field": "y", "type": "quantitative", "axis": {"orient": "right", "values": [-1,-0.5,0,0.5], "labels": false, "grid": false, "title": null}}
     }}
  ],
  "resolve": {"axis": {"x": "independent", "y": "independent"}}
},
{
  "width": 833, "height": 72,
  "data": {"name": "b"},
  "transform": [{"fold": ["e", "a"], "as": ["s", "y"]}],
  "layer": [
    {"transform": [{"filter": "datum.s == 'a'"}],
     "mark": {"type": "line", "strokeWidth": 1, "clip": true},
     "encoding": {
       "x": {"field": "x", "type": "quantitative", "scale": {"domain": [0, 0.9961], "nice": false, "zero": false}, "axis": {"values": [0,0.1,0.2,0.3,0.4,0.5,0.6,0.7,0.8,0.9], "labelExpr": "'' + datum.value", "title": null}},
       "y": {"field": "y", "type": "quantitative", "scale": {"domain": [0, 0.2], "nice": false, "zero": false}, "axis": {"values": [0,0.1,0.2], "labelExpr": "'' + datum.value", "title": "(b)"}},
       "color": {"field": "s", "type": "nominal", "scale": {"domain": ["e", "a"], "range": ["#ff0000", "#0000ff"]}, "legend": {"legendX": 3.3, "legendY": 2.7, "symbolSize": 1024, "clipHeight": 11, "rowPadding": 2, "labelExpr": "datum.label == 'e' ? 'Exact Solution' : 'Approximate Solution'", "symbolFillColor": "transparent", "encode": {"symbols": {"update": {"shape": {"signal": "datum.value == 'e' ? 'M-1,0H1M0,-0.08V0.08M-0.08,0H0.08' : 'M-1,0H1M0,-0.08V0.08M-0.08,0H0.08M-0.057,-0.057L0.057,0.057M-0.057,0.057L0.057,-0.057'"}, "strokeWidth": {"value": 1}}}}}}
     }},
    {"transform": [{"filter": "datum.s == 'a'"}],
     "mark": {"type": "point", "shape": "M-1,0H1M0,-1V1M-0.7,-0.7L0.7,0.7M-0.7,0.7L0.7,-0.7", "filled": false, "stroke": "#0000ff", "size": 25, "strokeWidth": 1, "opacity": 1, "clip": true},
     "encoding": {"x": {"field": "x", "type": "quantitative", "axis": null}, "y": {"field": "y", "type": "quantitative", "axis": null}}},
    {"transform": [{"filter": "datum.s == 'e'"}],
     "mark": {"type": "line", "strokeWidth": 1, "color": "#ff0000", "clip": true},
     "encoding": {"x": {"field": "x", "type": "quantitative", "axis": null}, "y": {"field": "y", "type": "quantitative", "axis": null}}},
    {"transform": [{"filter": "datum.s == 'e'"}],
     "mark": {"type": "point", "shape": "M-1,0H1M0,-1V1", "filled": false, "stroke": "#ff0000", "size": 25, "strokeWidth": 1, "opacity": 1, "clip": true},
     "encoding": {"x": {"field": "x", "type": "quantitative", "axis": null}, "y": {"field": "y", "type": "quantitative", "axis": null}}},
    {"mark": {"type": "line", "opacity": 0},
     "encoding": {
       "x": {"field": "x", "type": "quantitative", "axis": {"orient": "top", "values": [0,0.1,0.2,0.3,0.4,0.5,0.6,0.7,0.8,0.9], "labels": false, "grid": false, "title": null}},
       "y": {"field": "y", "type": "quantitative", "axis": {"orient": "right", "values": [0,0.1,0.2], "labels": false, "grid": false, "title": null}}
     }}
  ],
  "resolve": {"axis": {"x": "independent", "y": "independent"}}
},
{
  "width": 833, "height": 72,
  "data": {"name": "c"},
  "layer": [
    {"mark": {"type": "line", "strokeWidth": 1, "clip": true},
     "encoding": {
       "x": {"field": "x", "type": "quantitative", "scale": {"domain": [0, 0.9961], "nice": false, "zero": false}, "axis": {"values": [0,0.1,0.2,0.3,0.4,0.5,0.6,0.7,0.8,0.9], "labelExpr": "'' + datum.value", "title": null}},
       "y": {"field": "y", "type": "quantitative", "scale": {"domain": [-1, 2], "nice": false, "zero": false}, "axis": {"values": [-1,0,1,2], "labelExpr": "'' + datum.value", "title": "(c)"}},
       "color": {"datum": "Brownian Motion", "scale": {"range": ["#0000ff"]}, "legend": {"legendX": 5, "legendY": 3.3, "symbolType": "stroke", "symbolSize": 961, "clipHeight": 10}}
     }},
    {"mark": {"type": "line", "opacity": 0},
     "encoding": {
       "x": {"field": "x", "type": "quantitative", "axis": {"orient": "top", "values": [0,0.1,0.2,0.3,0.4,0.5,0.6,0.7,0.8,0.9], "labels": false, "grid": false, "title": null}},
       "y": {"field": "y", "type": "quantitative", "axis": {"orient": "right", "values": [-1,0,1,2], "labels": false, "grid": false, "title": null}}
     }}
  ],
  "resolve": {"axis": {"x": "independent", "y": "independent"}}
},
{
  "width": 833, "height": 72,
  "data": {"name": "d"},
  "transform": [{"fold": ["e", "a"], "as": ["s", "y"]}],
  "layer": [
    {"transform": [{"filter": "datum.s == 'a'"}],
     "mark": {"type": "line", "strokeWidth": 1, "clip": true},
     "encoding": {
       "x": {"field": "x", "type": "quantitative", "scale": {"domain": [0, 0.9961], "nice": false, "zero": false}, "axis": {"values": [0,0.1,0.2,0.3,0.4,0.5,0.6,0.7,0.8,0.9], "labelExpr": "'' + datum.value", "title": null}},
       "y": {"field": "y", "type": "quantitative", "scale": {"domain": [0, 0.4], "nice": false, "zero": false}, "axis": {"values": [0,0.2,0.4], "labelExpr": "'' + datum.value", "title": "(d)"}},
       "color": {"field": "s", "type": "nominal", "scale": {"domain": ["e", "a"], "range": ["#ff0000", "#0000ff"]}, "legend": {"legendX": 2.3, "legendY": 0.7, "symbolSize": 1024, "clipHeight": 12, "rowPadding": 2, "labelExpr": "datum.label == 'e' ? 'Exact Solution' : 'Approximate Solution'", "symbolFillColor": "transparent", "encode": {"symbols": {"update": {"shape": {"signal": "datum.value == 'e' ? 'M-1,0H1M0,-0.08V0.08M-0.08,0H0.08' : 'M-1,0H1M0,-0.08V0.08M-0.08,0H0.08M-0.057,-0.057L0.057,0.057M-0.057,0.057L0.057,-0.057'"}, "strokeWidth": {"value": 1}}}}}}
     }},
    {"transform": [{"filter": "datum.s == 'a'"}],
     "mark": {"type": "point", "shape": "M-1,0H1M0,-1V1M-0.7,-0.7L0.7,0.7M-0.7,0.7L0.7,-0.7", "filled": false, "stroke": "#0000ff", "size": 16, "strokeWidth": 1, "opacity": 1, "clip": true},
     "encoding": {"x": {"field": "x", "type": "quantitative", "axis": null}, "y": {"field": "y", "type": "quantitative", "axis": null}}},
    {"transform": [{"filter": "datum.s == 'e'"}],
     "mark": {"type": "line", "strokeWidth": 1, "color": "#ff0000", "clip": true},
     "encoding": {"x": {"field": "x", "type": "quantitative", "axis": null}, "y": {"field": "y", "type": "quantitative", "axis": null}}},
    {"transform": [{"filter": "datum.s == 'e'"}],
     "mark": {"type": "point", "shape": "M-1,0H1M0,-1V1", "filled": false, "stroke": "#ff0000", "size": 16, "strokeWidth": 1, "opacity": 1, "clip": true},
     "encoding": {"x": {"field": "x", "type": "quantitative", "axis": null}, "y": {"field": "y", "type": "quantitative", "axis": null}}},
    {"mark": {"type": "line", "opacity": 0},
     "encoding": {
       "x": {"field": "x", "type": "quantitative", "axis": {"orient": "top", "values": [0,0.1,0.2,0.3,0.4,0.5,0.6,0.7,0.8,0.9], "labels": false, "grid": false, "title": null}},
       "y": {"field": "y", "type": "quantitative", "axis": {"orient": "right", "values": [0,0.2,0.4], "labels": false, "grid": false, "title": null}}
     }}
  ],
  "resolve": {"axis": {"x": "independent", "y": "independent"}}
}
]
}
